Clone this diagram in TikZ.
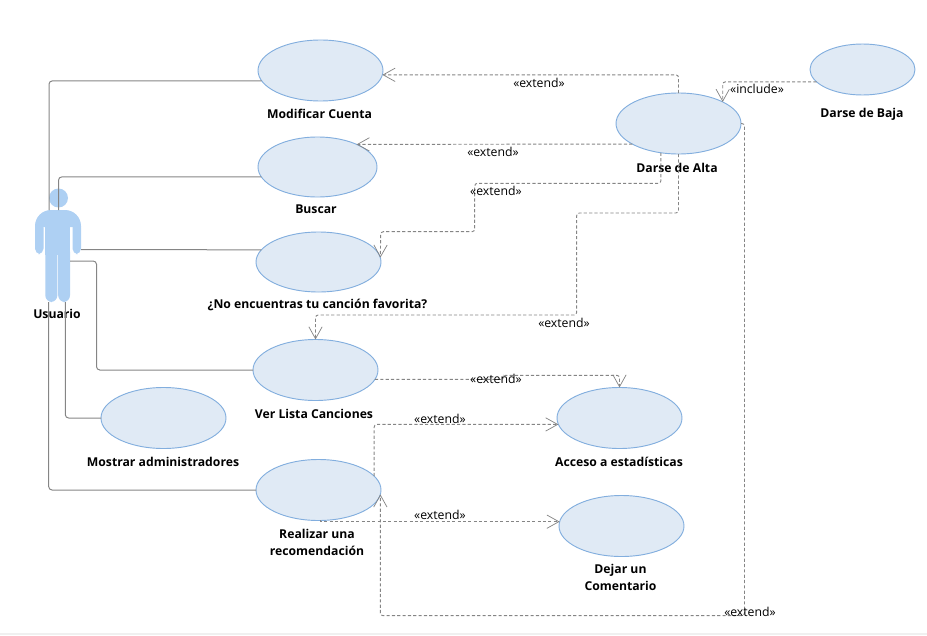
\documentclass[tikz,border=0pt]{standalone}
\usepackage{fontspec}
\setmainfont{Open Sans}
\usepackage{xcolor}
\usetikzlibrary{shapes.geometric, arrows.meta}
\definecolor{casefill}{HTML}{E0EAF5}
\definecolor{caseline}{HTML}{82AEDE}
\definecolor{actorfill}{HTML}{AED0F3}
\definecolor{linkgray}{HTML}{858585}
\definecolor{stripgray}{HTML}{F0F0F0}
\tikzset{
 usecase/.style={ellipse, draw=caseline, fill=casefill, line width=0.7pt, inner sep=0pt, outer sep=0pt, minimum width=125*0.75pt, minimum height=61*0.75pt},
 caselabel/.style={font=\fontsize{9.15}{12.75}\selectfont\bfseries, align=center, inner sep=0pt},
 stereo/.style={font=\fontsize{9.2}{12}\selectfont, inner sep=0pt},
 assoc/.style={draw=linkgray, line width=0.75pt, rounded corners=2.5pt},
 depend/.style={draw=linkgray, line width=0.7pt, dash pattern=on 2.4pt off 1.6pt, rounded corners=2pt, -{Straight Barb[length=9pt, width=10pt, line width=0.55pt]}}
}

\begin{document}
\begin{tikzpicture}[x=0.75pt, y=-0.75pt]
 \useasboundingbox (0,0) rectangle (927,635);
 \fill [stripgray] (0,633) rectangle (927,635);
 % actor
 \fill [actorfill] (58.5,198) circle (9.5);
 \fill [actorfill] (35,227) [rounded corners=12] -- (35,210) -- (81,210) [sharp corners] -- (81,227) -- cycle;
 \fill [actorfill, rounded corners=4] (35,222) rectangle (43.5,254);
 \fill [actorfill, rounded corners=4] (72.5,222) rectangle (81,254);
 \fill [actorfill] (45.3,212) rectangle (70,255);
 \fill [actorfill, rounded corners=5] (45.3,245) rectangle (57.4,302);
 \fill [actorfill, rounded corners=5] (58.2,245) rectangle (70,302);
 \coordinate (u1) at (49,210);
 \coordinate (u2) at (58.5,210);
 \coordinate (u3) at (81,249.5);
 \coordinate (u4) at (70,261);
 \coordinate (u5) at (65.3,302);
 \coordinate (u6) at (48.7,302);
 \coordinate (u4b) at (96.5,370);
 % use cases
 \node (modificar) at (320.5,70.5) [usecase] {};
 \node (buscar) at (317.5,167) [usecase, minimum width=119*0.75pt, minimum height=60*0.75pt] {};
 \node (favorita) at (318.5,262) [usecase, minimum height=60*0.75pt] {};
 \node (verlista) at (315.5,370) [usecase] {};
 \node (mostrar) at (163.5,418) [usecase] {};
 \node (realizar) at (318.5,490) [usecase] {};
 \node (acceso) at (619.5,418) [usecase] {};
 \node (dejar) at (621.5,526) [usecase] {};
 \node (alta) at (678.5,123.5) [usecase] {};
 \node (baja) at (862.5,69.5) [usecase, minimum width=105*0.75pt, minimum height=51*0.75pt] {};
 % labels
 \node (lusuario) at (57,313.5) [caselabel] {Usuario};
 \node (lmodificar) at (319.5,114) [caselabel] {Modificar Cuenta};
 \node (lbuscar) at (316,209.5) [caselabel] {Buscar};
 \node (lfavorita) at (317.5,305) [caselabel] {¿No encuentras tu canción favorita?};
 \node (lverlista) at (314,413.5) [caselabel] {Ver Lista Canciones};
 \node (lmostrar) at (163,461.5) [caselabel] {Mostrar administradores};
 \node (lrealizar) at (317,542.5) [caselabel] {Realizar una\\recomendación};
 \node (lacceso) at (619,461.5) [caselabel] {Acceso a estadísticas};
 \node (ldejar) at (620.5,577.5) [caselabel] {Dejar un\\Comentario};
 \node (lalta) at (677,167.5) [caselabel] {Darse de Alta};
 \node (lbaja) at (862,114) [caselabel] {Darse de Baja};
 % associations
 \draw [assoc] (modificar.190) -| (u1);
 \draw [assoc] (buscar.190) -| (u2);
 \draw [assoc] (u3) -- (favorita.168);
 \draw [assoc] (u4) -| (u4b) -- (verlista.west);
 \draw [assoc] (u5) |- (mostrar.west);
 \draw [assoc] (u6) |- (realizar.west);
 % dependencies
 \coordinate (f1) at (474.7,183.3);
 \coordinate (f2) at (380.7,231.7);
 \coordinate (v1) at (576.7,213);
 \coordinate (v2) at (315.5,315);
 \coordinate (a1) at (503,375.3);
 \coordinate (r1) at (744.5,615.7);
 \draw [depend] (alta.north) |- (modificar.-4);
 \draw [depend] (alta.204) -- (buscar.30);
 \draw [depend] (alta.239) |- (f1) |- (f2) -- (favorita.4);
 \draw [depend] (alta.south) |- (v1) |- (v2) -- (verlista.north);
 \draw [depend] (verlista.-9) -| (a1) -| (acceso.north);
 \draw [depend] (realizar.14) |- (acceso.186);
 \draw [depend, sharp corners] (realizar.-87) |- (dejar.176);
 \draw [depend] (alta.east) -| (r1) -| (realizar.-4);
 \draw [depend] (baja.195) -| (alta.26);
 % stereotypes
 \node (s1) at (539,83) [stereo] {«extend»};
 \node (s2) at (493,152) [stereo] {«extend»};
 \node (s3) at (496,190.5) [stereo] {«extend»};
 \node (s4) at (564,323) [stereo] {«extend»};
 \node (s5) at (496,379) [stereo] {«extend»};
 \node (s6) at (440,419) [stereo] {«extend»};
 \node (s7) at (440,515) [stereo] {«extend»};
 \node (s8) at (750,612) [stereo] {«extend»};
 \node (s9) at (757,89) [stereo] {«include»};
\end{tikzpicture}
\end{document}
